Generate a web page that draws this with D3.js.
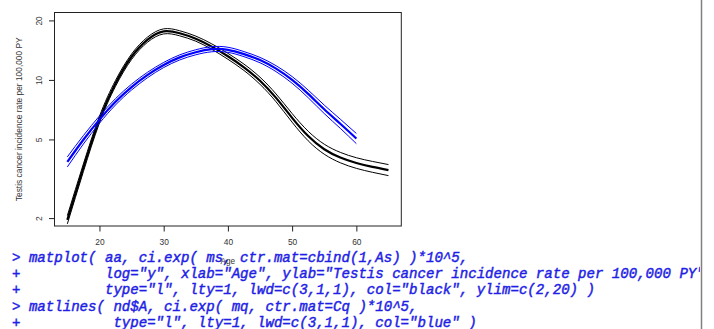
<!DOCTYPE html>
<html>
<head>
<meta charset="utf-8">
<script src="https://cdn.jsdelivr.net/npm/d3@7"></script>
<style>
  html, body { margin: 0; padding: 0; background: #fff; }
  svg { display: block; }
</style>
</head>
<body>
<svg id="chart" width="714" height="329"></svg>
<script>
// Age grid of the fitted curves (black: matplot, blue: matlines)
const blackAges = [15, 17.5, 20, 22.5, 25, 27.5, 30, 32.5, 35, 37.5, 40, 42.5, 45, 47.5, 50, 52.5, 55, 57.5, 60, 62.5, 65];
const blackEst  = [1.96, 3.6, 6.3, 9.6, 13.1, 16.0, 17.6, 17.21, 16.17, 14.74, 13.17, 11.58, 9.90, 8.11, 6.43, 5.20, 4.46, 4.05, 3.80, 3.63, 3.50];
const blackLo   = [1.87, 3.44, 6.06, 9.28, 12.69, 15.53, 17.09, 16.71, 15.70, 14.28, 12.72, 11.16, 9.50, 7.75, 6.11, 4.92, 4.21, 3.81, 3.57, 3.41, 3.28];
const blackHi   = [2.06, 3.76, 6.55, 9.94, 13.52, 16.48, 18.13, 17.73, 16.66, 15.21, 13.63, 12.02, 10.32, 8.49, 6.76, 5.50, 4.73, 4.30, 4.04, 3.87, 3.73];

const blueAges = [15, 17.5, 20, 22.5, 25, 27.5, 30, 32.5, 35, 37.5, 40, 42.5, 45, 47.5, 50, 52.5, 55, 57.5, 60];
const blueEst  = [3.85, 4.98, 6.30, 7.75, 9.20, 10.6, 11.9, 13.0, 13.8, 14.3, 14.2, 13.5, 12.6, 11.4, 10.0, 8.5, 7.1, 6.0, 5.05];
const blueLo   = [3.63, 4.74, 6.04, 7.47, 8.89, 10.27, 11.55, 12.62, 13.40, 13.88, 13.79, 13.11, 12.21, 11.01, 9.62, 8.13, 6.76, 5.69, 4.76];
const blueHi   = [4.08, 5.23, 6.57, 8.04, 9.52, 10.94, 12.26, 13.39, 14.21, 14.73, 14.63, 13.91, 13.00, 11.80, 10.40, 8.88, 7.46, 6.33, 5.36];

const xTicks = [20, 30, 40, 50, 60];
const yTicks = [2, 5, 10, 20];
const yLimits = [2, 20];
const xLabel = "Age";
const yLabel = "Testis cancer incidence rate per 100,000 PY";

const codeLines = [
  "> matplot( aa, ci.exp( ms, ctr.mat=cbind(1,As) )*10^5,",
  "+          log=\"y\", xlab=\"Age\", ylab=\"Testis cancer incidence rate per 100,000 PY\",",
  "+          type=\"l\", lty=1, lwd=c(3,1,1), col=\"black\", ylim=c(2,20) )",
  "> matlines( nd$A, ci.exp( mq, ctr.mat=Cq )*10^5,",
  "+           type=\"l\", lty=1, lwd=c(3,1,1), col=\"blue\" )"
];

const svg = d3.select("#chart");
const box = { left: 54.5, right: 401.3, top: 12.5, bottom: 226 };

// R-style 4% axis extension
const xExt = d3.extent(blackAges);
const xPad = (xExt[1] - xExt[0]) * 0.04;
const x = d3.scaleLinear().domain([xExt[0] - xPad, xExt[1] + xPad]).range([box.left, box.right]);
const lPad = (Math.log10(yLimits[1]) - Math.log10(yLimits[0])) * 0.04;
const y = d3.scaleLog()
  .domain([yLimits[0] / Math.pow(10, lPad), yLimits[1] * Math.pow(10, lPad)])
  .range([box.bottom, box.top]);

// Console text below the plot, clipped at the page edge
svg.append("clipPath").attr("id", "pageClip")
  .append("rect").attr("x", 0).attr("y", 0).attr("width", 700).attr("height", 329);
const code = svg.append("g").attr("clip-path", "url(#pageClip)");
const baselines = [261.5, 278, 294.3, 310.7, 327];
code.selectAll("text").data(codeLines).join("text")
  .attr("x", 12)
  .attr("y", (d, i) => baselines[i])
  .attr("font-family", "'Liberation Mono', monospace")
  .attr("font-style", "italic")
  .attr("font-size", "14.08px")
  .attr("fill", "#1e1ee6")
  .attr("stroke", "#1e1ee6")
  .attr("stroke-width", 0.45)
  .style("white-space", "pre")
  .text(d => d);

// Plot frame
svg.append("rect")
  .attr("x", box.left).attr("y", box.top)
  .attr("width", box.right - box.left).attr("height", box.bottom - box.top)
  .attr("fill", "none").attr("stroke", "#222").attr("stroke-width", 1);

// Axes
const xAxis = d3.axisBottom(x).tickValues(xTicks).tickSize(5.5).tickPadding(3).tickFormat(d3.format("d"));
const gx = svg.append("g").attr("transform", `translate(0,${box.bottom})`).call(xAxis);
gx.select(".domain").remove();
gx.selectAll("line").attr("stroke", "#222");
gx.selectAll("text").attr("font-family", "'Liberation Sans', Arial, sans-serif")
  .attr("font-size", "8.4px").attr("fill", "#333").attr("dy", null).attr("y", 19);

const yAxis = d3.axisLeft(y).tickValues(yTicks).tickSize(5.5).tickFormat(d3.format("d"));
const gy = svg.append("g").attr("transform", `translate(${box.left},0)`).call(yAxis);
gy.select(".domain").remove();
gy.selectAll("line").attr("stroke", "#222");
gy.selectAll("text")
  .attr("font-family", "'Liberation Sans', Arial, sans-serif")
  .attr("font-size", "8.4px").attr("fill", "#333")
  .attr("x", null).attr("dy", null)
  .attr("text-anchor", "middle")
  .attr("transform", "translate(-12.8,0) rotate(-90)");

// Axis titles
svg.append("text")
  .attr("x", (box.left + box.right) / 2).attr("y", 263.5)
  .attr("text-anchor", "middle")
  .attr("font-family", "'Liberation Sans', Arial, sans-serif")
  .attr("font-size", "8.2px").attr("fill", "#333")
  .text(xLabel);
svg.append("text")
  .attr("transform", `translate(22.3,${(box.top + box.bottom) / 2}) rotate(-90)`)
  .attr("text-anchor", "middle")
  .attr("font-family", "'Liberation Sans', Arial, sans-serif")
  .attr("font-size", "8.4px").attr("fill", "#333")
  .text(yLabel);

// Curves: estimate (thick) with confidence limits (thin)
const plotClip = svg.append("clipPath").attr("id", "plotClip");
plotClip.append("rect").attr("x", box.left).attr("y", box.top)
  .attr("width", box.right - box.left).attr("height", box.bottom - box.top);
const curves = svg.append("g").attr("clip-path", "url(#plotClip)");

function drawSet(ages, series, color) {
  const line = d3.line().x(d => x(d[0])).y(d => y(d[1])).curve(d3.curveNatural);
  series.forEach(([vals, w]) => {
    curves.append("path")
      .datum(ages.map((a, i) => [a, vals[i]]))
      .attr("d", line)
      .attr("fill", "none")
      .attr("stroke", color)
      .attr("stroke-width", w);
  });
}
drawSet(blackAges, [[blackEst, 2.2], [blackLo, 1], [blackHi, 1]], "#000");
drawSet(blueAges, [[blueEst, 2.2], [blueLo, 1], [blueHi, 1]], "#0000ff");

// Page edge rule
svg.append("line")
  .attr("x1", 701.5).attr("x2", 701.5).attr("y1", 0).attr("y2", 329)
  .attr("stroke", "#808080").attr("stroke-width", 1.5);
</script>
</body>
</html>
